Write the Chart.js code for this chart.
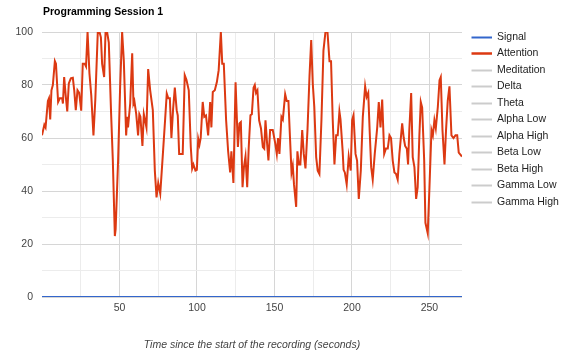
<!DOCTYPE html>
<html>
<head>
<meta charset="utf-8">
<script src="https://cdn.jsdelivr.net/npm/chart.js@4/dist/chart.umd.min.js"></script>
<style>
html,body{margin:0;padding:0;background:#fff;}
canvas{display:block;}
</style>
</head>
<body>
<canvas id="c" width="566" height="355"></canvas>
<script>
const chartTitle = 'Programming Session 1';
const xAxisTitle = 'Time since the start of the recording (seconds)';
const seriesNames = ['Signal','Attention','Meditation','Delta','Theta','Alpha Low','Alpha High','Beta Low','Beta High','Gamma Low','Gamma High'];
const seriesColors = ['#3366cc','#dc3912','#cccccc','#cccccc','#cccccc','#cccccc','#cccccc','#cccccc','#cccccc','#cccccc','#cccccc'];

const signalTimes = [0, 271];
const signalValues = [0, 0];

const times = [0,1.5,2.3,3.8,4.5,5.3,6.1,7,8.3,9,10.4,11.5,13,13.5,14.3,15.3,16.3,17.3,18.6,19.9,20.8,21.8,22.9,24,25.3,26.3,27.6,28.4,29.4,30.6,31.8,33.2,34.4,36,37.1,38,38.8,40.1,41,42,43.1,44.6,45.7,47,47.5,49.1,50.4,51.7,52.8,54.3,55,55.5,56.9,58.2,59,59.6,60.8,62,62.8,63.5,64.8,65.7,66.4,67.4,68.5,69.8,71.5,72.8,73.9,75,76.3,78,79.5,80.5,81.5,82.5,83.5,84.6,85.7,86.9,87.6,88.5,90,90.8,92.1,93.2,94.7,96,96.9,97.7,99,99.9,100.8,101.6,102.4,103.7,104.7,105.8,107.2,108.5,109.3,110.2,111.5,112.8,114,115.4,116.3,117.3,118.8,120.1,121.4,122.2,123.5,124.9,126.4,127.4,128.3,129.4,130.3,131.3,132.4,133.4,134.5,135.4,136.5,137.3,138.1,139,140.1,141.3,142.5,143.4,144.2,145.1,146.1,147.2,148.9,150.5,151.5,152.3,153.2,154.5,155.4,156.9,157.9,159,160.1,161,161.8,162.6,164,164.8,165.7,166.7,167.9,168.9,170,171.3,172.6,173.7,174.7,175.7,176.9,177.9,179,180.3,181.6,182.9,184.2,185.5,186.5,187.6,188.7,189.8,190.8,191.9,192.6,194,194.6,195.4,196.6,197.9,199.2,200.1,201,202.3,203.3,204.4,205.7,207,208.5,209.5,210.5,211.4,212.4,213.4,214.7,216.3,217.3,218.4,219.5,220.8,221.9,223.1,224.2,225.2,226.3,227.4,228.4,229.5,230.6,232.4,233.4,234.3,235.4,236.2,237,238.2,239.2,240.3,241.4,242.4,243.5,244.4,245.3,246.6,247.4,248.9,250,251.3,252.2,253.2,254.1,255.4,256.5,257.3,258.4,259.7,260.7,261.8,262.9,264.2,265.5,266.8,267.9,268.9,271];

const attention = [61,65,64,74,75,67,78,80,89,88,73.6,75,75,73,83,76,70,80.6,82.5,82.7,78,70.5,78,77,70.3,88,88,87,100,84.5,76,61,74.5,100,100,98,88,83,100,100,96,69,51.5,23,25.5,51.5,79,100,89,61,68,64,73,92,73,74,69,61,69,68,57,69,67,64,86,78,70.5,47.7,37.6,43,39,54,67.5,76.8,75,75,60,71,79,70.5,68.5,54,54,54,83.7,82,78,56.6,48.5,50,47.7,48,59.7,57.5,60,73.6,68,68.5,61,73.6,64,77.4,78,81,85.6,100,88,88,66.7,55,47,55,43,81,56.6,65.5,66,41.4,49,53,41.4,56.6,68.6,69,79,80,77,78,66.7,63.6,56.6,56,66.7,59,51.5,63,63,58,54,60,54,68,67,76.5,74,74,59,47,49.5,42.5,34,55,50,50,63,54,48.5,63,83.3,97,80.6,71.7,52.8,47.7,46.4,66.7,93,100,100,89,89,66.7,50,61,61,70,67,55,48,47,42.5,53,47.7,66.7,68.6,54,51.5,37,47.7,68,79.5,75.5,77,63,49,44.3,54,64,73.6,64,74.5,54,56,56,61,60,51.5,47,46.5,44.3,54,65.5,60,57,56,50,63,77,52.8,49,37,41.4,61,73.6,71.5,51.5,28,24,41.4,63,61,66.7,63.6,71.7,81.8,83,63,50,63,74,79.5,61,60,61,61,54.5,53];

const xMin = 0, xMax = 271;
const yTicks = [0,20,40,60,80,100];
const xTicks = [50,100,150,200,250];

const FONT = 'Arial, "Liberation Sans", sans-serif';

const datasets = seriesNames.map((name, i) => {
  let data = [];
  if (name === 'Signal') data = signalTimes.map((t, k) => ({x: t, y: signalValues[k]}));
  if (name === 'Attention') data = times.map((t, k) => ({x: t, y: attention[k]}));
  return {
    label: name,
    data: data,
    borderColor: seriesColors[i],
    backgroundColor: seriesColors[i],
    borderWidth: 2,
    pointRadius: 0,
    pointHoverRadius: 0,
    tension: 0,
    fill: false,
    order: name === 'Signal' ? 0 : 1
  };
});

const overlay = {
  id: 'overlay',
  afterDraw(chart) {
    const ctx = chart.ctx;
    ctx.save();
    ctx.textBaseline = 'middle';
    ctx.textAlign = 'left';
    ctx.fillStyle = '#000';
    ctx.font = 'bold 10.5px ' + FONT;
    ctx.fillText(chartTitle, 43, 12);
    ctx.font = '10.5px ' + FONT;
    seriesNames.forEach((name, i) => {
      const y = 36.7 + i * 16.5;
      ctx.strokeStyle = seriesColors[i];
      ctx.lineWidth = (i === 1) ? 2.5 : 2;
      ctx.beginPath();
      ctx.moveTo(471.5, Math.round(y) + 0.5);
      ctx.lineTo(492, Math.round(y) + 0.5);
      ctx.stroke();
      ctx.fillStyle = '#222';
      ctx.fillText(name, 497, y);
    });
    ctx.restore();
  }
};

new Chart(document.getElementById('c'), {
  type: 'line',
  data: { datasets },
  options: {
    responsive: false,
    animation: false,
    devicePixelRatio: 1,
    layout: { padding: { top: 32, right: 104, left: 0, bottom: 0 } },
    plugins: { legend: { display: false }, title: { display: false }, tooltip: { enabled: false } },
    scales: {
      x: {
        type: 'linear',
        min: xMin, max: xMax,
        border: { display: false },
        afterFit(s) { s.height = 58; },
        grid: {
          drawTicks: false,
          color(c) {
            const v = c.tick.value;
            if (v === 0 || v % 25 !== 0) return 'rgba(0,0,0,0)';
            return v % 50 === 0 ? '#d6d6d6' : '#ececec';
          }
        },
        ticks: {
          stepSize: 25,
          autoSkip: false,
          maxRotation: 0,
          padding: 5,
          color: '#444',
          font: { family: FONT, size: 10.5 },
          callback(v) { return xTicks.includes(v) ? String(v) : ''; }
        },
        title: {
          display: true,
          text: xAxisTitle,
          color: '#444',
          font: { family: FONT, size: 10.5, style: 'italic' },
          padding: { top: 0, bottom: 4 }
        }
      },
      y: {
        min: 0, max: 100,
        border: { display: false },
        afterFit(s) { s.width = 42; },
        grid: {
          drawTicks: false,
          color(c) {
            const v = c.tick.value;
            return v % 20 === 0 ? '#d6d6d6' : '#ececec';
          }
        },
        ticks: {
          stepSize: 10,
          padding: 9,
          color: '#444',
          font: { family: FONT, size: 10.5 },
          callback(v) { return yTicks.includes(v) ? String(v) : ''; }
        }
      }
    }
  },
  plugins: [overlay]
});
</script>
</body>
</html>
